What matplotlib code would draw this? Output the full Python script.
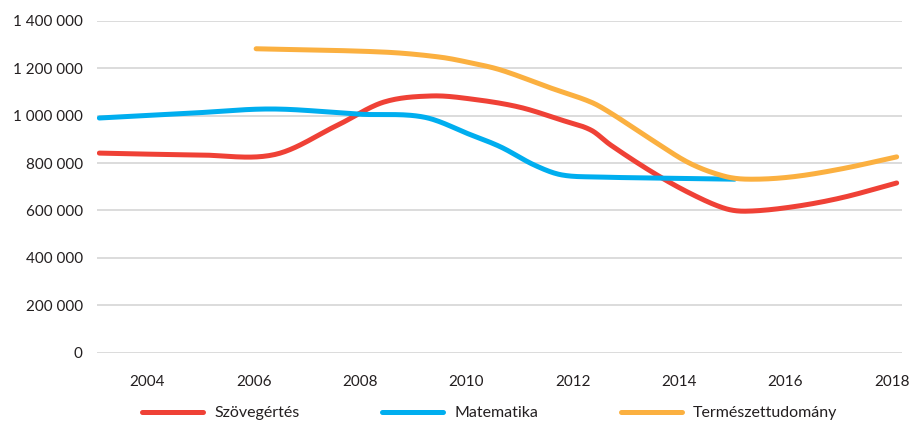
import numpy as np
import matplotlib
matplotlib.use("Agg")
import matplotlib.pyplot as plt
import matplotlib.transforms as mtransforms
from matplotlib.ticker import FuncFormatter

# values
red_years = [2003.0, 2004.9, 2006.3, 2007.5, 2008.35, 2009.25, 2010.0, 2010.9,
             2011.7, 2012.25, 2012.62, 2013.4, 2014.1, 2014.75, 2015.15, 2016.0,
             2016.95, 2018.0]
red_vals = [842000, 834000, 836000, 962000, 1057000, 1083000, 1070000, 1036000,
            981000, 939000, 876000, 762000, 674000, 610000, 597000, 614000,
            653000, 716000]

blue_years = [2003.0, 2004.7, 2006.25, 2007.9, 2009.1, 2010.0, 2010.56, 2011.18,
              2011.7, 2012.44, 2013.4, 2014.95]
blue_vals = [990000, 1010000, 1028000, 1006000, 994000, 918000, 867000, 792000,
             750000, 741000, 737000, 732000]

orange_years = [2005.95, 2008.35, 2009.4, 2010.0, 2010.56, 2011.5, 2012.25, 2012.62,
                2013.4, 2014.1, 2014.75, 2015.2, 2016.0, 2016.95, 2018.0]
orange_vals = [1282000, 1268000, 1247000, 1222000, 1192000, 1116000, 1057000, 1011000,
               897000, 800000, 745000, 732000, 741000, 775000, 826000]

labels = ["Szövegértés", "Matematika", "Természettudomány"]
colors = ["#EF4136", "#00AEEF", "#FBB040"]
xticks = [2004, 2006, 2008, 2010, 2012, 2014, 2016, 2018]
yticks = [0, 200000, 400000, 600000, 800000, 1000000, 1200000, 1400000]


def smooth(x, y, n=25):
    # cubic Hermite curve through the points, only used to draw a smoothed line
    x = np.asarray(x, float)
    y = np.asarray(y, float)
    m = np.empty_like(y)
    m[1:-1] = (y[2:] - y[:-2]) / (x[2:] - x[:-2])
    m[0] = (y[1] - y[0]) / (x[1] - x[0])
    m[-1] = (y[-1] - y[-2]) / (x[-1] - x[-2])
    t = np.linspace(0, 1, n, endpoint=False)
    h00 = 2 * t**3 - 3 * t**2 + 1
    h10 = t**3 - 2 * t**2 + t
    h01 = -2 * t**3 + 3 * t**2
    h11 = t**3 - t**2
    ox, oy = [], []
    for i in range(len(x) - 1):
        h = x[i + 1] - x[i]
        ox.extend(x[i] + t * h)
        oy.extend(h00 * y[i] + h10 * h * m[i] + h01 * y[i + 1] + h11 * h * m[i + 1])
    ox.append(x[-1])
    oy.append(y[-1])
    return ox, oy


plt.rcParams['font.family'] = ['Lato', 'DejaVu Sans']
fig = plt.figure(figsize=(9.12, 4.24), dpi=100)
ax = fig.add_axes([0.106, 0.168, 0.883, 0.783])

series = [(red_years, red_vals), (blue_years, blue_vals), (orange_years, orange_vals)]
for (xs, ys), lab, col in zip(series, labels, colors):
    sx, sy = smooth(xs, ys)
    ax.plot(sx, sy, color=col, lw=3.6, solid_capstyle='round', solid_joinstyle='round', label=lab)

ax.set_xlim(2002.95, 2018.1)
ax.set_ylim(0, 1400000)
ax.set_xticks(xticks)
ax.set_yticks(yticks)
ax.yaxis.set_major_formatter(FuncFormatter(lambda v, p: f"{int(v):,}".replace(",", " ")))
ax.grid(axis='y', color='#d9d9d9', lw=1.3)
ax.set_axisbelow(True)
for s in ax.spines.values():
    s.set_visible(False)
ax.tick_params(axis='both', length=0, labelsize=11, colors='#231f20')
ax.tick_params(axis='y', pad=10)
ax.tick_params(axis='x', pad=16)
shift = mtransforms.ScaledTranslation(-5 / 100, 0, fig.dpi_scale_trans)
for t in ax.get_xticklabels():
    t.set_transform(t.get_transform() + shift)

fig.legend(loc='center', bbox_to_anchor=(0.537, 0.025), ncol=3, frameon=False,
           fontsize=11.5, handlelength=3.8, columnspacing=5.2, handletextpad=0.7,
           labelcolor='#231f20')

fig.savefig("out.png", dpi=100)
